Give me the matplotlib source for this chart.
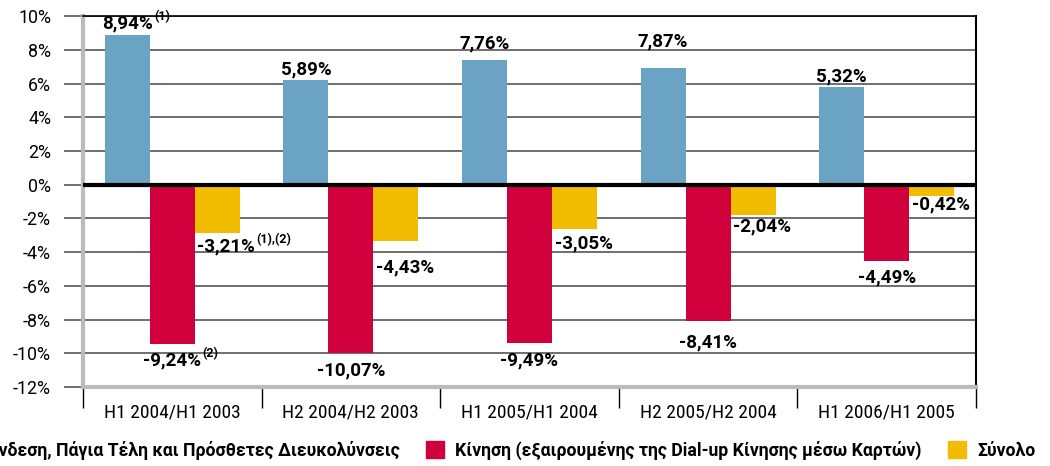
import numpy as np
import matplotlib
matplotlib.use("Agg")
import matplotlib.pyplot as plt
from matplotlib.patches import Patch

plt.rcParams['font.family'] = ['Roboto', 'DejaVu Sans']
COND = ['Roboto Condensed', 'Roboto', 'DejaVu Sans']

periods = ["H1 2004/H1 2003", "H2 2004/H2 2003", "H1 2005/H1 2004",
           "H2 2005/H2 2004", "H1 2006/H1 2005"]
series_names = ["Σύνδεση, Πάγια Τέλη και Πρόσθετες Διευκολύνσεις",
                "Κίνηση (εξαιρουμένης της Dial-up Κίνησης μέσω Καρτών)",
                "Σύνολο"]
# bar heights as drawn in the picture
access = [8.9, 6.2, 7.4, 6.9, 5.8]
traffic = [-9.45, -10.0, -9.4, -8.1, -4.55]
total = [-2.85, -3.35, -2.6, -1.8, -0.7]
# printed labels
access_lbl = [8.94, 5.89, 7.76, 7.87, 5.32]
traffic_lbl = [-9.24, -10.07, -9.49, -8.41, -4.49]
total_lbl = [-3.21, -4.43, -3.05, -2.04, -0.42]
access_note = ["(1)", "", "", "", ""]
traffic_note = ["(2)", "", "", "", ""]
total_note = ["(1),(2)", "", "", "", ""]

colors = ["#6ba3c4", "#d0003c", "#f2bc00"]

fig = plt.figure(figsize=(10.5, 4.66), dpi=100)
ax = fig.add_axes([0.079, 0.1695, 0.8505, 0.796])

x = np.arange(len(periods))
w = 0.252
ax.bar(x - w, access, w, color=colors[0], zorder=3)
ax.bar(x, traffic, w, color=colors[1], zorder=3)
ax.bar(x + w, total, w, color=colors[2], zorder=3)
ax.axhline(0, color="black", lw=3, zorder=4)

ax.set_xlim(-0.5, 4.5)
ax.set_ylim(-12, 10)
ax.set_yticks(np.arange(-12, 11, 2))
ax.set_yticklabels(["%d%%" % v for v in np.arange(-12, 11, 2)], fontsize=12.8)
ax.yaxis.grid(True, color="#555555", lw=1.2, zorder=0)
ax.tick_params(axis="y", length=14, width=1.2, color="#555555", pad=9)

ax.set_xticks(x)
ax.set_xticklabels(periods, fontsize=14, family=COND)
ax.set_xticks(np.arange(-0.5, 5, 1), minor=True)
ax.tick_params(axis="x", which="major", length=0, pad=12)
ax.tick_params(axis="x", which="minor", length=15, width=1, color="black")

for s in ["left", "bottom"]:
    ax.spines[s].set_color("#bbbbbb")
    ax.spines[s].set_linewidth(3)
ax.spines["right"].set_color("black")
ax.spines["right"].set_linewidth(1.5)
ax.spines["top"].set_color("black")
ax.spines["top"].set_linewidth(1.2)


def fmt(v):
    return ("%.2f%%" % v).replace(".", ",")


def put(xp, y, val, note, ha, va, dy):
    t = ax.annotate(fmt(val), (xp, y), xytext=(0, dy), textcoords="offset points",
                    ha=ha, va=va, fontsize=13.5, fontweight="bold", zorder=5)
    if note:
        ax.annotate(note, xy=(1, 1), xycoords=t, xytext=(1, 3),
                    textcoords="offset points", ha="left", va="top",
                    fontsize=9, fontweight="bold", zorder=5)


for i in range(len(periods)):
    put(x[i] - w, max(access[i], access_lbl[i]), access_lbl[i], access_note[i],
        "center", "bottom", 1)
    put(x[i], min(traffic[i], traffic_lbl[i]), traffic_lbl[i], traffic_note[i],
        "center", "top", -5)
    put(x[i] + w / 2 + 0.015, min(total[i], total_lbl[i]), total_lbl[i], total_note[i],
        "left", "top", 1)

handles = [Patch(color=c) for c in colors]
fig.legend(handles, series_names, loc="center right", bbox_to_anchor=(0.986, 0.034),
           ncol=3, frameon=False, borderpad=0, borderaxespad=0,
           handlelength=1.05, handleheight=1.05, handletextpad=0.6,
           columnspacing=1.5, prop={"size": 12.7, "weight": "bold"})

fig.savefig("out.png", dpi=100)
